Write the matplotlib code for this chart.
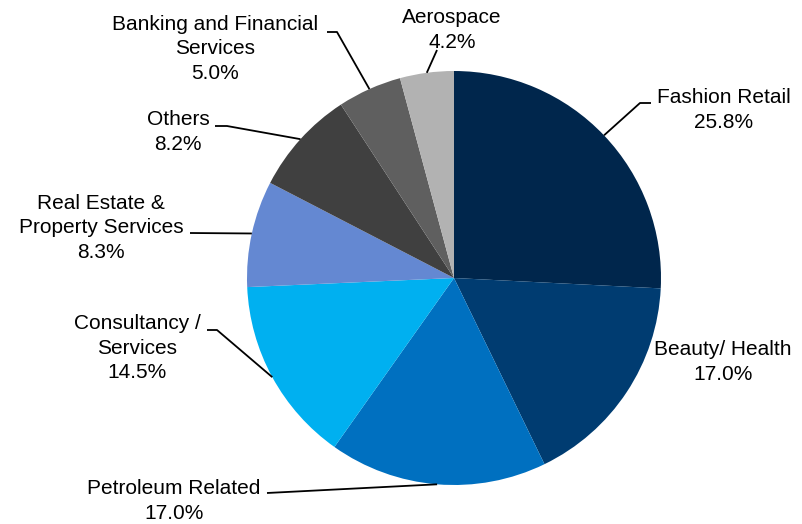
import numpy as np
import matplotlib
matplotlib.use("Agg")
import matplotlib.pyplot as plt

plt.rcParams['font.family'] = ['Liberation Sans', 'DejaVu Sans']

# Sector shares, clockwise from 12 o'clock
labels = ["Fashion Retail", "Beauty/ Health", "Petroleum Related", "Consultancy /\nServices",
          "Real Estate &\nProperty Services", "Others", "Banking and Financial\nServices", "Aerospace"]
shares = [25.8, 17.0, 17.0, 14.5, 8.3, 8.2, 5.0, 4.2]
colors = ["#00264C", "#003C71", "#0070C0", "#00B0F0", "#6488D2", "#404040", "#5F5F5F", "#B2B2B2"]

W, H = 803, 524
CX, CY, R = 454, 278, 207

fig = plt.figure(figsize=(W / 100, H / 100), dpi=100)
ax = fig.add_axes([0, 0, 1, 1])

ax.pie(shares, colors=colors, startangle=90, counterclock=False, radius=1.0,
       wedgeprops=dict(linewidth=0))

# pie() resets the view, so fix the limits afterwards
ax.set_aspect("auto")
ax.set_xlim(-CX / R, (W - CX) / R)
ax.set_ylim((CY - H) / R, CY / R)
ax.axis("off")


def pix(x, y):
    # pixel position (from top-left) -> data coordinates
    return (x - CX) / R, (CY - y) / R


# label centre and elbow points of each leader line (pixels)
label_pos = [(724, 110), (723, 362), (174, 501), (137, 348), (101, 228), (178, 132), (215, 49), (452, 30)]
elbows = [[(640, 103), (651, 103)], None, [(267, 493)], [(217, 330), (207, 330)],
          [(190, 233)], [(227, 126), (215, 126)], [(337, 32), (327, 32)], [(437, 50)]]

cum = np.cumsum([0] + shares)
for i, (lab, val) in enumerate(zip(labels, shares)):
    mid = 90 - (cum[i] + val / 2) * 3.6
    tx, ty = pix(*label_pos[i])
    ax.text(tx, ty, f"{lab}\n{val:.1f}%", ha="center", va="center",
            fontsize=15, color="#000000", linespacing=1.38)
    if elbows[i] is not None:
        pts = [(np.cos(np.radians(mid)), np.sin(np.radians(mid)))] + [pix(*p) for p in elbows[i]]
        xs, ys = zip(*pts)
        ax.plot(xs, ys, color="black", linewidth=1.3, solid_capstyle="butt")

fig.savefig("out.png", dpi=100, facecolor="white")
